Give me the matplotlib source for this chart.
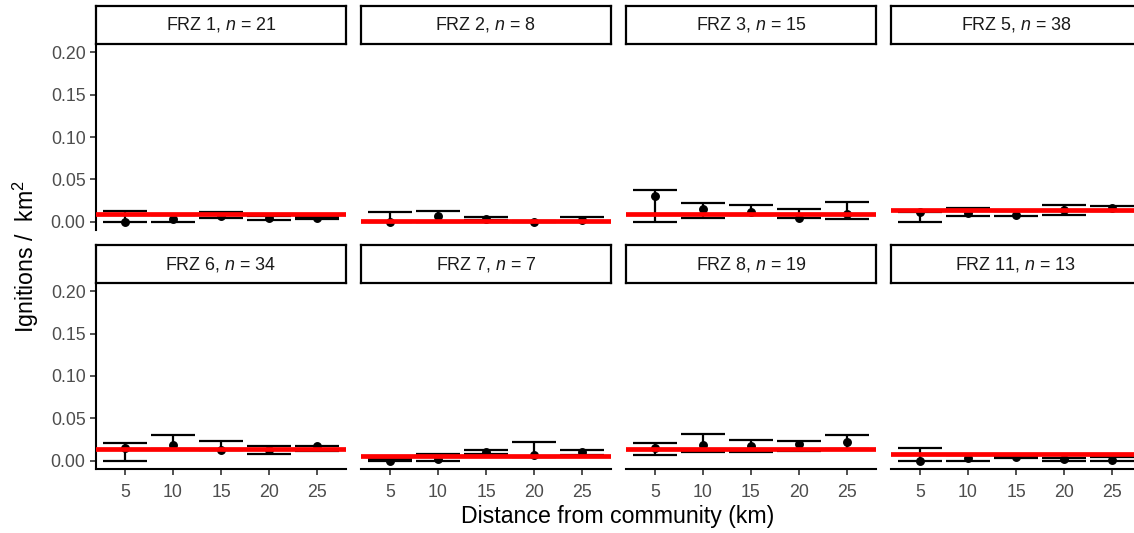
import matplotlib
matplotlib.use('Agg')
import matplotlib.pyplot as plt
import numpy as np

plt.rcParams['font.family'] = 'Liberation Sans'
plt.rcParams['mathtext.fontset'] = 'custom'
plt.rcParams['mathtext.rm'] = 'Liberation Sans'
plt.rcParams['mathtext.it'] = 'Liberation Sans:italic'

# data
frz = ['1', '2', '3', '5', '6', '7', '8', '11']
n_obs = [21, 8, 15, 38, 34, 7, 19, 13]
dist = [5, 10, 15, 20, 25]
rate = [
    [0.000, 0.003, 0.006, 0.0047, 0.004],     # FRZ 1
    [0.000, 0.0066, 0.003, 0.000, 0.0015],    # FRZ 2
    [0.030, 0.0146, 0.0107, 0.0047, 0.0087],  # FRZ 3
    [0.0107, 0.0099, 0.0075, 0.0134, 0.0166], # FRZ 5
    [0.0148, 0.018, 0.0127, 0.012, 0.0171],   # FRZ 6
    [0.000, 0.0016, 0.010, 0.0068, 0.010],    # FRZ 7
    [0.0148, 0.0187, 0.0167, 0.0195, 0.022],  # FRZ 8
    [0.000, 0.0036, 0.004, 0.0016, 0.0008],   # FRZ 11
]
lower = [
    [0.000, 0.000, 0.004, 0.002, 0.003],
    [0.000, 0.000, 0.002, 0.000, 0.001],
    [0.000, 0.004, 0.008, 0.004, 0.003],
    [0.000, 0.006, 0.007, 0.0075, 0.012],
    [0.000, 0.014, 0.012, 0.008, 0.0107],
    [0.000, 0.000, 0.008, 0.004, 0.006],
    [0.0068, 0.010, 0.010, 0.0107, 0.014],
    [0.000, 0.000, 0.003, 0.000, 0.000],
]
upper = [
    [0.012, 0.008, 0.011, 0.0066, 0.005],
    [0.0114, 0.0126, 0.005, 0.001, 0.0055],
    [0.0375, 0.0214, 0.0194, 0.0146, 0.0237],
    [0.011, 0.0166, 0.012, 0.0197, 0.0185],
    [0.0202, 0.030, 0.023, 0.0175, 0.0172],
    [0.002, 0.008, 0.0127, 0.022, 0.012],
    [0.0207, 0.0318, 0.0238, 0.023, 0.030],
    [0.0148, 0.006, 0.005, 0.0036, 0.004],
]
overall = [0.0095, 0.001, 0.0095, 0.0134, 0.014, 0.0048, 0.014, 0.0076]

W, H = 1134, 533
fig = plt.figure(figsize=(W / 100, H / 100), dpi=100)

col_left = [96, 361, 626, 891]
pw = 250
rows = [(6, 44, 230), (245, 283, 469)]  # strip top, panel top, panel bottom

for k in range(8):
    r, c = divmod(k, 4)
    st, pt, pb = rows[r]
    x0 = col_left[c]
    ax = fig.add_axes([x0 / W, 1 - pb / H, pw / W, (pb - pt) / H])
    lo = np.array(lower[k])
    hi = np.array(upper[k])
    ax.errorbar(dist, (lo + hi) / 2, yerr=(hi - lo) / 2, fmt='none',
                ecolor='black', elinewidth=1.6, capsize=15.7, capthick=1.6, zorder=2)
    ax.plot(dist, rate[k], 'o', color='black', markersize=5.4, zorder=3)
    ax.axhline(overall[k], color='#ff0000', lw=3.4, zorder=4)
    ax.set_xlim(2, 28)
    ax.set_ylim(-0.01, 0.21)
    ax.set_yticks([0, 0.05, 0.10, 0.15, 0.20])
    ax.set_xticks(dist)
    for s in ['top', 'right']:
        ax.spines[s].set_visible(False)
    ax.spines['left'].set_linewidth(1.5)
    ax.spines['bottom'].set_linewidth(1.5)
    ax.tick_params(colors='#333333', labelcolor='#4d4d4d', labelsize=12.8,
                   length=4, width=1.2)
    ax.tick_params(axis='y', pad=3.5)
    ax.tick_params(axis='x', pad=7)
    ax.set_yticklabels(['0.00', '0.05', '0.10', '0.15', '0.20'])
    if c != 0:
        ax.spines['left'].set_visible(False)
        ax.tick_params(axis='y', left=False, labelleft=False)
    if r == 0:
        ax.spines['bottom'].set_visible(False)
        ax.tick_params(axis='x', bottom=False, labelbottom=False)

    # facet strip
    sax = fig.add_axes([x0 / W, 1 - pt / H, pw / W, (pt - st) / H])
    sax.set_xticks([])
    sax.set_yticks([])
    for s in sax.spines.values():
        s.set_linewidth(1.6)
        s.set_color('black')
    sax.text(0.5, 0.5, 'FRZ ' + frz[k] + r', $n$ = ' + str(n_obs[k]),
             ha='center', va='center', fontsize=12.9, color='#1a1a1a',
             transform=sax.transAxes)

fig.text(618 / W, 1 - 516 / H, 'Distance from community (km)',
         ha='center', va='center', fontsize=16.7)
fig.text(26 / W, 1 - 256 / H, r'Ignitions /  km$^2$', rotation=90,
         ha='center', va='center', fontsize=16.7)

fig.savefig('out.png', dpi=100)
